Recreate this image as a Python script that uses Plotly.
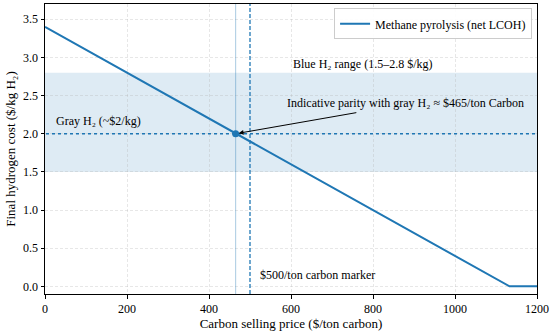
import plotly.graph_objects as go

carbon_price = [0, 200, 400, 600, 800, 1000, 1133, 1200]
net_lcoh = [3.4, 2.8, 2.2, 1.6, 1.0, 0.4, 0.0, 0.0]
blue_range = [1.5, 2.8]
gray_h2 = 2.0
parity_price = 465
marker_price = 500
x_ticks = [0, 200, 400, 600, 800, 1000, 1200]
y_ticks = [0.0, 0.5, 1.0, 1.5, 2.0, 2.5, 3.0, 3.5]

BLUE = "#1f77b4"
FONT = "Liberation Serif"

fig = go.Figure()
fig.add_shape(type="rect", xref="x", yref="y", x0=-100, x1=1300, y0=blue_range[0], y1=blue_range[1],
              fillcolor="rgba(31,119,180,0.15)", line_width=0, layer="below")
fig.add_shape(type="line", xref="x", yref="y", x0=-100, x1=1300, y0=gray_h2, y1=gray_h2,
              line=dict(color=BLUE, width=1.6, dash="dot"))
fig.add_shape(type="line", xref="x", yref="paper", x0=marker_price, x1=marker_price, y0=0, y1=1,
              line=dict(color=BLUE, width=1.3, dash="4px,2px"))
fig.add_shape(type="line", xref="x", yref="paper", x0=parity_price, x1=parity_price, y0=0, y1=1,
              line=dict(color="rgba(31,119,180,0.55)", width=0.7))

fig.add_trace(go.Scatter(x=carbon_price, y=net_lcoh, mode="lines", name="Methane pyrolysis (net LCOH)",
                         line=dict(color=BLUE, width=2)))
fig.add_trace(go.Scatter(x=[parity_price], y=[gray_h2], mode="markers", showlegend=False,
                         marker=dict(color=BLUE, size=7)))

fig.add_annotation(x=600, y=2.92, xref="x", yref="y", text="Blue H₂ range (1.5–2.8 $/kg)",
                   showarrow=False, xanchor="left", yanchor="middle", font=dict(size=12, color="black"))
fig.add_annotation(x=22, y=2.05, xref="x", yref="y", text="Gray H₂ (~$2/kg)",
                   showarrow=False, xanchor="left", yanchor="bottom", font=dict(size=12, color="black"))
fig.add_annotation(x=520, y=0.03, xref="x", yref="y", text="$500/ton carbon marker",
                   showarrow=False, xanchor="left", yanchor="bottom", font=dict(size=12, color="black"))
fig.add_annotation(x=585, y=2.4, xref="x", yref="y", text="Indicative parity with gray H₂ ≈ $465/ton Carbon",
                   showarrow=False, xanchor="left", yanchor="middle", font=dict(size=12, color="black"))
fig.add_annotation(x=parity_price, y=gray_h2, ax=763, ay=2.28, xref="x", yref="y", axref="x", ayref="y",
                   text="", showarrow=True, arrowhead=2, arrowsize=1, arrowwidth=1, arrowcolor="black",
                   standoff=3)

axis_common = dict(showline=True, linecolor="black", linewidth=1, mirror=True, ticks="outside",
                   ticklen=3.5, tickcolor="black", showgrid=True, gridcolor="rgba(176,176,176,0.3)",
                   griddash="3px,2px", gridwidth=0.8, zeroline=False,
                   tickfont=dict(size=12, color="black", family=FONT))

fig.update_xaxes(range=[0, 1200], tickvals=x_ticks, title=dict(text="Carbon selling price ($/ton carbon)",
                 font=dict(size=13, color="black"), standoff=1), **axis_common)
fig.update_yaxes(range=[-0.1, 3.7], tickvals=y_ticks, tickformat=".1f",
                 title=dict(text="Final hydrogen cost ($/kg H₂)", font=dict(size=13, color="black"), standoff=4),
                 **axis_common)

fig.update_layout(width=550, height=333, margin=dict(l=45, r=13, t=4, b=39, autoexpand=False),
                  plot_bgcolor="white", paper_bgcolor="white", hovermode=False,
                  font=dict(family=FONT, size=12, color="black"),
                  legend=dict(x=0.99, y=0.985, xanchor="right", yanchor="top", bgcolor="rgba(255,255,255,0.9)",
                              bordercolor="#cccccc", borderwidth=1, font=dict(size=12),
                              tracegroupgap=0))

fig.write_html("out.html", config={"displayModeBar": False},
               post_script="document.body.style.margin='0';")
